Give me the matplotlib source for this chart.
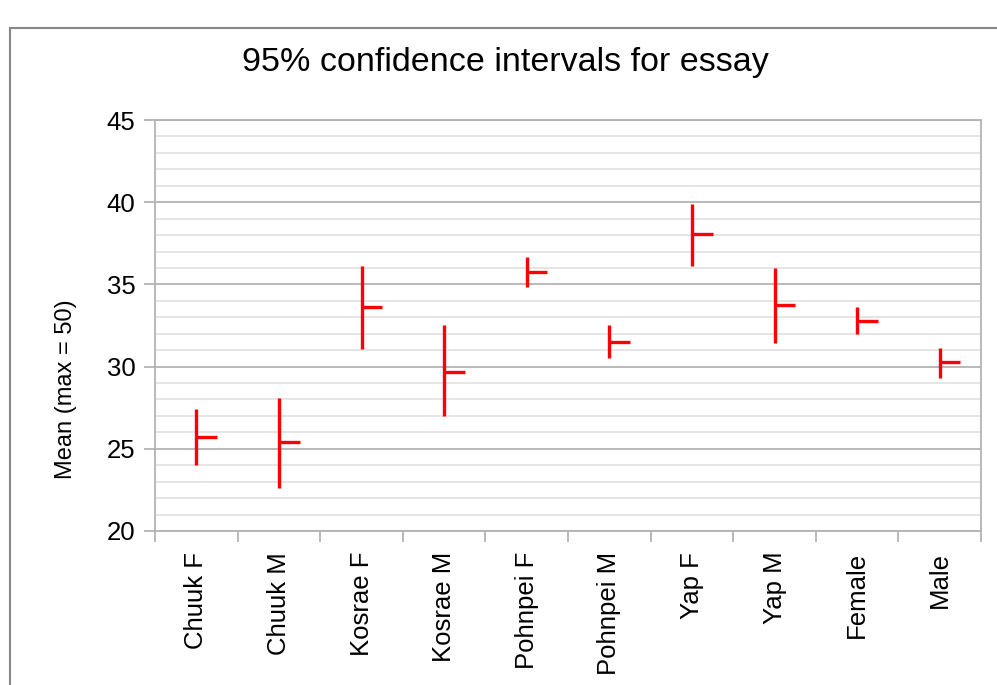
import numpy as np
import matplotlib.pyplot as plt
from matplotlib.ticker import MultipleLocator, FixedLocator
from matplotlib.lines import Line2D

plt.rcParams['font.family'] = ['Liberation Sans', 'DejaVu Sans']

# groups and their 95% confidence intervals (high, low, mean)
groups = ["Chuuk F", "Chuuk M", "Kosrae F", "Kosrae M", "Pohnpei F",
          "Pohnpei M", "Yap F", "Yap M", "Female", "Male"]
high = [27.4, 28.1, 36.1, 32.5, 36.65, 32.5, 39.9, 36.0, 33.6, 31.15]
low = [24.0, 22.6, 31.1, 27.0, 34.85, 30.5, 36.1, 31.45, 32.0, 29.3]
mean = [25.7, 25.4, 33.6, 29.7, 35.75, 31.5, 38.05, 33.75, 32.8, 30.25]

grey = '#b3b3b3'
red = '#ff0000'

fig = plt.figure(figsize=(9.97, 6.85), dpi=100)
ax = fig.add_axes([155 / 997, 1 - 531 / 685, 826 / 997, 411 / 685])

x = np.arange(len(groups)) + 0.5

# high-low lines and the mean tick to the right
ax.vlines(x, low, high, color=red, lw=2.4)
ax.hlines(mean, x, x + 0.25, color=red, lw=2.4)

ax.set_xlim(0, len(groups))
ax.set_ylim(20, 45)

# y axis: major every 5, minor every 1
ax.yaxis.set_major_locator(MultipleLocator(5))
ax.yaxis.set_minor_locator(MultipleLocator(1))
ax.grid(which='major', axis='y', color=grey, lw=1.3)
ax.grid(which='minor', axis='y', color='#e3e3e3', lw=1.3)
ax.set_axisbelow(True)

# x axis: ticks between categories, labels at centers
ax.xaxis.set_major_locator(FixedLocator(np.arange(len(groups) + 1)))
ax.xaxis.set_minor_locator(FixedLocator(x))
ax.set_xticklabels([], minor=False)
ax.set_xticklabels(groups, minor=True, rotation=90, fontsize=18.5)

ax.tick_params(axis='x', which='major', length=8, width=1.3, color=grey)
ax.tick_params(axis='x', which='minor', length=0, pad=15)
ax.tick_params(axis='y', which='major', length=8, width=1.3, color=grey,
               labelsize=18.5, pad=6)
ax.tick_params(axis='y', which='minor', length=0)

for s in ax.spines.values():
    s.set_color(grey)
    s.set_linewidth(1.3)

fig.text(66 / 997, 1 - 389 / 685, 'Mean (max = 50)', rotation=90,
         ha='center', va='center', fontsize=17)

fig.text(505 / 997, 1 - 62 / 685, '95% confidence intervals for essay',
         ha='center', va='center', fontsize=24.5)

# chart frame from the spreadsheet
fig.add_artist(Line2D([10 / 997, 10 / 997], [0, 1 - 28 / 685],
                      transform=fig.transFigure, color='#888888', lw=1.5))
fig.add_artist(Line2D([10 / 997, 1], [1 - 28 / 685, 1 - 28 / 685],
                      transform=fig.transFigure, color='#888888', lw=1.5))

fig.savefig('out.png', dpi=100)
